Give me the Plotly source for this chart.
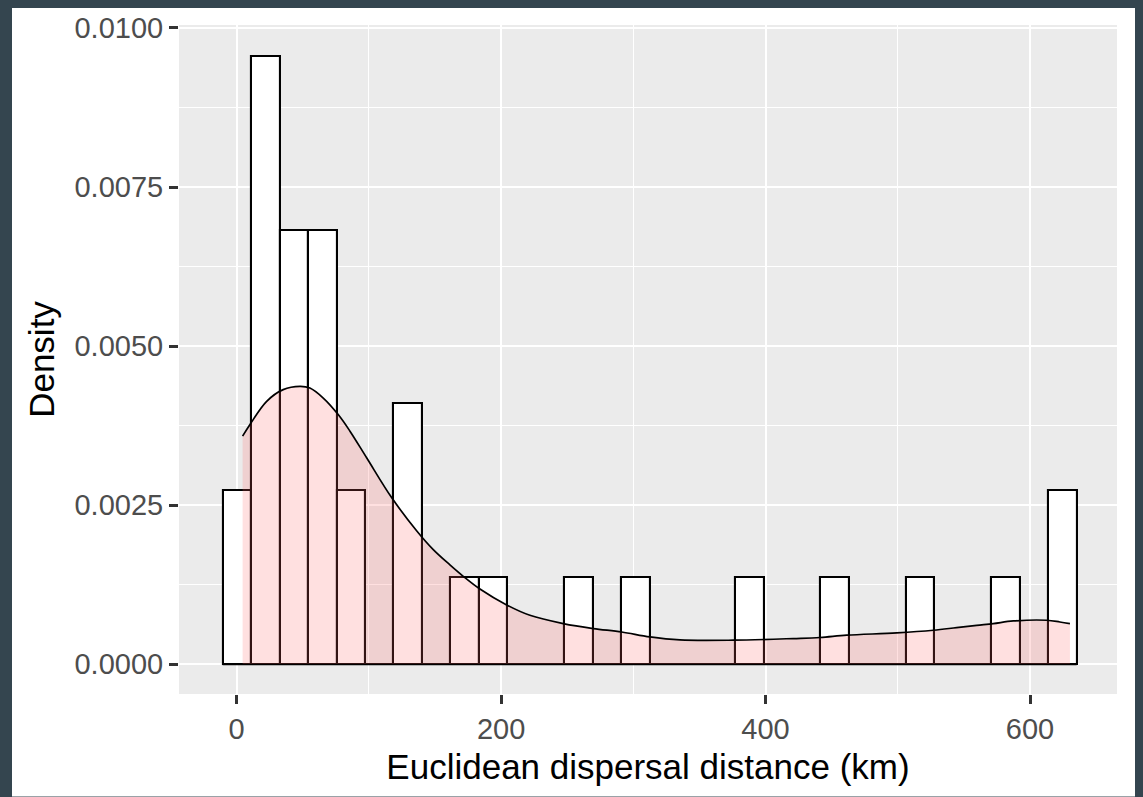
import plotly.graph_objects as go

# ---- data ----
bin_centers = [0.17, 21.70, 43.23, 64.76, 86.29, 107.82, 129.35, 150.88, 172.41, 193.94,
               215.47, 237.00, 258.53, 280.06, 301.59, 323.12, 344.65, 366.18, 387.71, 409.24,
               430.77, 452.30, 473.83, 495.36, 516.89, 538.42, 559.95, 581.48, 603.01, 624.54]
bin_width = 21.53
bar_density = [0.00273, 0.00956, 0.00683, 0.00683, 0.00273, 0.0, 0.00410, 0.0, 0.00137, 0.00137,
               0.0, 0.0, 0.00137, 0.0, 0.00137, 0.0, 0.0, 0.0, 0.00137, 0.0,
               0.0, 0.00137, 0.0, 0.0, 0.00137, 0.0, 0.0, 0.00137, 0.0, 0.00273]

kde_x = [4.5, 10.1, 22.7, 35.2, 47.9, 55.4, 65.5, 76.8, 85.7, 98.3, 117.2, 136.1, 148.7, 161.3,
         171.4, 184.0, 204.2, 221.8, 247.0, 269.7, 291.2, 312.6, 335.3, 375.6, 421.0, 441.2,
         461.4, 499.2, 526.9, 544.5, 559.7, 572.2, 587.4, 612.6, 622.6, 630.2]
kde_y = [0.003584, 0.003767, 0.004131, 0.004315, 0.004366, 0.004340, 0.004183, 0.003923,
         0.003662, 0.003244, 0.002618, 0.002097, 0.001800, 0.001560, 0.001380, 0.001180,
         0.000930, 0.000767, 0.000637, 0.000559, 0.000505, 0.000427, 0.000380, 0.000376,
         0.000402, 0.000418, 0.000454, 0.000490, 0.000532, 0.000574, 0.000610, 0.000637,
         0.000678, 0.000689, 0.000662, 0.000637]

x_ticks = [0, 200, 400, 600]
y_ticks = [0.0, 0.0025, 0.0050, 0.0075, 0.0100]
y_tick_labels = ["0.0000", "0.0025", "0.0050", "0.0075", "0.0100"]
x_title = "Euclidean dispersal distance (km)"
y_title = "Density"

# ---- figure ----
W, H = 1143, 797
ml, mr, mt, mb = 179, 26, 22, 103
pw, ph = W - ml - mr, H - mt - mb

def px_to_paper_x(px):
    return (px - ml) / pw

def px_to_paper_y(py):
    return (H - mb - py) / ph

fig = go.Figure()

fig.add_trace(go.Bar(
    x=bin_centers, y=bar_density, width=bin_width,
    marker=dict(color="white", line=dict(color="black", width=2.1)),
    showlegend=False, hoverinfo="x+y",
))

# baseline of the histogram (zero-count bins draw a flat line in ggplot)
left_edge = bin_centers[0] - bin_width / 2
right_edge = bin_centers[-1] + bin_width / 2
fig.add_trace(go.Scatter(
    x=[left_edge, right_edge], y=[0, 0], mode="lines",
    line=dict(color="black", width=2.1), showlegend=False, hoverinfo="skip",
))

fig.add_trace(go.Scatter(
    x=kde_x, y=kde_y, mode="lines", fill="tozeroy",
    fillcolor="rgba(255,102,102,0.2)", line=dict(color="black", width=1.7, shape="spline"),
    showlegend=False,
))

grid_major = "white"
fig.update_layout(
    width=W, height=H,
    margin=dict(l=ml, r=mr, t=mt, b=mb, pad=0),
    paper_bgcolor="#34454f",
    plot_bgcolor="rgba(0,0,0,0)",
    font=dict(family="Liberation Sans, Arial, sans-serif", color="#4D4D4D"),
    bargap=0,
    shapes=[
        dict(type="rect", xref="paper", yref="paper", layer="below",
             x0=px_to_paper_x(12), x1=px_to_paper_x(1135),
             y0=px_to_paper_y(797), y1=px_to_paper_y(5),
             fillcolor="white", line=dict(width=0)),
        dict(type="rect", xref="paper", yref="paper", layer="below",
             x0=0, x1=1, y0=0, y1=1,
             fillcolor="#EBEBEB", line=dict(width=0)),
    ],
)

fig.update_xaxes(
    range=[-43.6, 665.8], tickvals=x_ticks, ticktext=[str(v) for v in x_ticks],
    showgrid=True, gridcolor=grid_major, gridwidth=2.2,
    minor=dict(tickvals=[100, 300, 500], showgrid=True, gridcolor=grid_major, gridwidth=1.1, ticks=""),
    zeroline=False, showline=False,
    ticks="outside", ticklen=9, tickwidth=2.5, tickcolor="#333333",
    tickfont=dict(size=29, color="#4D4D4D"),
    title=dict(text=x_title, font=dict(size=35, color="black"), standoff=10),
)
fig.update_yaxes(
    range=[-0.00047, 0.010047], tickvals=y_ticks, ticktext=y_tick_labels,
    showgrid=True, gridcolor=grid_major, gridwidth=2.2,
    minor=dict(tickvals=[0.00125, 0.00375, 0.00625, 0.00875], showgrid=True,
               gridcolor=grid_major, gridwidth=1.1, ticks=""),
    zeroline=False, showline=False,
    ticks="outside", ticklen=9, tickwidth=2.5, tickcolor="#333333",
    tickfont=dict(size=29, color="#4D4D4D"),
    title=dict(text=y_title, font=dict(size=35, color="black"), standoff=9),
)

fig.write_html("out.html")
